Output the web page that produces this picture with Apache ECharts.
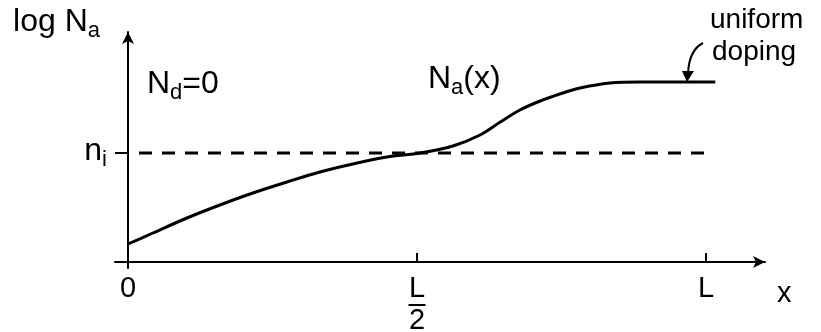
<!DOCTYPE html>
<html>
<head>
<meta charset="utf-8">
<script src="https://cdn.jsdelivr.net/npm/echarts@6/dist/echarts.min.js"></script>
<style>
  html, body { margin: 0; padding: 0; background: #fff; }
  #chart { width: 821px; height: 332px; }
</style>
</head>
<body>
<div id="chart"></div>
<script>
// position along the sample, in units of L
const xPos = [0, 0.043, 0.102, 0.159, 0.216, 0.275, 0.332, 0.389, 0.448, 0.505, 0.562, 0.609, 0.644, 0.678, 0.713, 0.747, 0.782, 0.834, 0.886, 1.016];
// log Na, arbitrary units (0 = x axis)
const logNa = [18, 29, 44, 57, 69, 80, 90, 98, 105, 109, 116, 127, 140, 152, 161, 168, 174, 179, 180, 180];
// intrinsic level n_i and the extent of its dashed line
const niLevel = 109;
const niSpan = [0.019, 1.007];
// x ticks and their labels
const xTicks = [0, 0.5, 1];
const xTickLabels = ['0', '{l|L}\n{bar| }\n{l|2}', 'L'];

const FONT = 'Liberation Sans, Arial, sans-serif';
const axisStyle = { color: '#000', width: 2 };
const subStyle = { fontFamily: FONT, fontSize: 22, lineHeight: 22, verticalAlign: 'bottom', color: '#000' };
const mainStyle = { fontFamily: FONT, fontSize: 32, lineHeight: 40, color: '#000' };

const chart = echarts.init(document.getElementById('chart'));

const option = {
  animation: false,
  backgroundColor: '#fff',
  grid: { left: 115, right: 56, top: 32, bottom: 64, outerBoundsMode: 'none', containLabel: false },
  xAxis: {
    type: 'value',
    min: -0.0225,
    max: 1.102,
    name: 'x',
    nameLocation: 'end',
    nameGap: 12,
    nameTextStyle: {
      fontFamily: FONT, fontSize: 29, color: '#000',
      align: 'left', verticalAlign: 'top', padding: [17, 0, 0, 0]
    },
    axisLine: { onZero: true, symbol: ['none', 'arrow'], symbolSize: [9, 12], lineStyle: axisStyle },
    axisTick: { show: true, customValues: [0.5, 1], inside: true, length: 9, lineStyle: axisStyle },
    axisLabel: {
      customValues: xTicks,
      formatter: v => xTickLabels[xTicks.indexOf(v)] || '',
      margin: 8,
      fontFamily: FONT, fontSize: 29, lineHeight: 26, color: '#000',
      rich: {
        l: { fontFamily: FONT, fontSize: 29, lineHeight: 26, color: '#000' },
        bar: { width: 17, height: 2, lineHeight: 6, fontSize: 1, backgroundColor: '#000' }
      }
    },
    splitLine: { show: false }
  },
  yAxis: {
    type: 'value',
    min: -6,
    max: 230,
    name: 'log N{s|a}',
    nameLocation: 'end',
    nameGap: 10,
    nameTextStyle: {
      fontFamily: FONT, fontSize: 32, lineHeight: 40, color: '#000',
      align: 'right', verticalAlign: 'middle', padding: [0, 28, 0, 0],
      rich: { s: subStyle }
    },
    axisLine: { show: true, onZero: true, symbol: ['none', 'arrow'], symbolSize: [9, 12], lineStyle: axisStyle },
    axisTick: { show: true, customValues: [niLevel], length: 13, lineStyle: axisStyle },
    axisLabel: {
      customValues: [niLevel],
      formatter: () => '{n|n}{s|i}',
      margin: 8,
      padding: [0, 0, 4, 0],
      rich: { n: mainStyle, s: subStyle }
    },
    splitLine: { show: false }
  },
  series: [
    {
      name: 'Na(x)',
      type: 'line',
      data: xPos.map((x, i) => [x, logNa[i]]),
      smooth: 0.3,
      showSymbol: false,
      lineStyle: { color: '#000', width: 3 }
    },
    {
      name: 'ni',
      type: 'line',
      data: niSpan.map(x => [x, niLevel]),
      showSymbol: false,
      lineStyle: { color: '#000', width: 3, type: [13, 10] }
    }
  ],
  graphic: [
    {
      type: 'text', x: 147, y: 84,
      style: {
        text: '{m|N}{s|d}{m|=0}', align: 'left', verticalAlign: 'middle',
        rich: { m: mainStyle, s: subStyle }
      }
    },
    {
      type: 'text', x: 428, y: 79,
      style: {
        text: '{m|N}{s|a}{m|(x)}', align: 'left', verticalAlign: 'middle',
        rich: { m: mainStyle, s: subStyle }
      }
    },
    {
      type: 'text', x: 710, y: 20,
      style: { text: 'uniform', fontFamily: FONT, fontSize: 28, fill: '#000', align: 'left', verticalAlign: 'middle' }
    },
    {
      type: 'text', x: 712, y: 52,
      style: { text: 'doping', fontFamily: FONT, fontSize: 28, fill: '#000', align: 'left', verticalAlign: 'middle' }
    },
    {
      type: 'bezierCurve',
      shape: { x1: 703, y1: 43, x2: 688, y2: 74, cpx1: 689, cpy1: 50 },
      style: { stroke: '#000', lineWidth: 2, fill: null }
    },
    {
      type: 'polygon',
      shape: { points: [[682, 71], [694, 71], [687, 82]] },
      style: { fill: '#000' }
    }
  ]
};

chart.setOption(option);
</script>
</body>
</html>
